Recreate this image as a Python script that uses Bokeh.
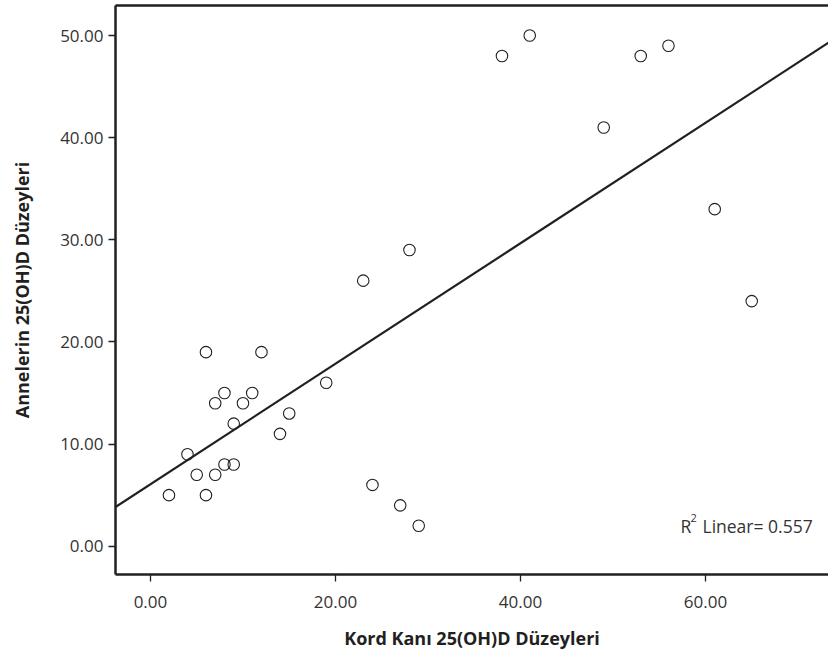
import numpy as np
from bokeh.plotting import figure
from bokeh.models import (LinearAxis, FixedTicker, NumeralTickFormatter, Label, Range1d)
from bokeh.embed import file_html
from bokeh.resources import INLINE

# Data
kord = [2, 4, 5, 6, 6, 7, 7, 8, 8, 9, 9, 10, 11, 12, 14, 15, 19, 24, 27, 29,
        23, 28, 38, 41, 49, 53, 56, 61, 65]
anne = [5, 9, 7, 5, 19, 14, 7, 15, 8, 12, 8, 14, 15, 19, 11, 13, 16, 6, 4, 2,
        26, 29, 48, 50, 41, 48, 49, 33, 24]
x_ticks = [0, 20, 40, 60]
y_ticks = [0, 10, 20, 30, 40, 50]
r2_text = "0.557"

FONT = "Open Sans"
DARK = "#231f20"

x0, x1 = -3.78, 73.3
y0, y1 = -2.77, 52.94

p = figure(width=828, height=654, output_backend="svg", toolbar_location=None,
           x_range=Range1d(x0, x1), y_range=Range1d(y0, y1),
           min_border_left=115, min_border_right=0, min_border_top=5,
           min_border_bottom=80, x_axis_type=None, y_axis_type=None)
p.outline_line_color = None
p.xgrid.visible = False
p.ygrid.visible = False
p.background_fill_color = "white"
p.border_fill_color = "white"

def style_axis(ax):
    ax.axis_line_color = DARK
    ax.axis_line_width = 2.5
    ax.major_tick_line_color = DARK
    ax.major_tick_line_width = 1.3
    ax.major_tick_out = 7
    ax.major_tick_in = 0
    ax.minor_tick_line_color = None
    ax.major_label_text_font = FONT
    ax.major_label_text_font_size = "17px"
    ax.major_label_text_color = "#333333"
    ax.axis_label_text_font = FONT
    ax.axis_label_text_font_size = "18px"
    ax.axis_label_text_font_style = "bold"
    ax.axis_label_text_color = DARK
    ax.formatter = NumeralTickFormatter(format="0.00")

xa = LinearAxis(ticker=FixedTicker(ticks=x_ticks), axis_label="Kord Kanı 25(OH)D Düzeyleri")
style_axis(xa)
xa.major_label_standoff = 14
xa.axis_label_standoff = 15
p.add_layout(xa, "below")

ya = LinearAxis(ticker=FixedTicker(ticks=y_ticks), axis_label="Annelerin 25(OH)D Düzeyleri")
style_axis(ya)
ya.major_label_standoff = 5
ya.axis_label_standoff = 23
p.add_layout(ya, "left")

top = LinearAxis(ticker=FixedTicker(ticks=[]))
top.axis_line_color = DARK
top.axis_line_width = 2.5
top.major_tick_line_color = None
top.minor_tick_line_color = None
top.major_label_text_color = None
p.add_layout(top, "above")

p.scatter(kord, anne, marker="circle", size=11.5, fill_color=None,
          line_color=DARK, line_width=1.1)

# least-squares fit line
slope, intercept = np.polyfit(np.array(kord, float), np.array(anne, float), 1)
lx = [x0, x1]
ly = [intercept + slope * v for v in lx]
p.line(lx, ly, line_color=DARK, line_width=2.2)

p.add_layout(Label(x=57.3, y=2.0, text="R", text_font=FONT, text_font_size="17.5px",
                   text_color="#333333", text_baseline="alphabetic"))
p.add_layout(Label(x=57.3, y=2.0, x_offset=10, y_offset=8, text="2", text_font=FONT,
                   text_font_size="11px", text_color="#333333", text_baseline="alphabetic"))
p.add_layout(Label(x=57.3, y=2.0, x_offset=22, text="Linear= " + r2_text, text_font=FONT,
                   text_font_size="17.5px", text_color="#333333", text_baseline="alphabetic"))

open("out.html", "w").write(file_html(p, INLINE))
